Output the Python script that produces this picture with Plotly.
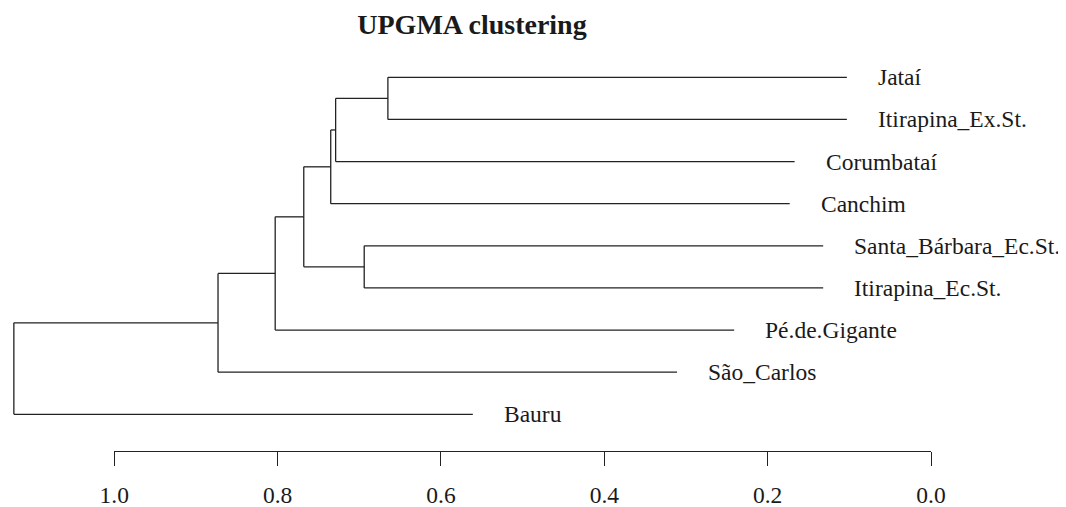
import plotly.graph_objects as go

# ---- data ----
leaves = ["Jataí", "Itirapina_Ex.St.", "Corumbataí", "Canchim",
          "Santa_Bárbara_Ec.St.", "Itirapina_Ec.St.", "Pé.de.Gigante",
          "São_Carlos", "Bauru"]
# merges: name, left child, right child, height on the axis scale
merge_names = ["F", "G", "E", "D", "C", "B", "A", "Root"]
merge_left = ["Jataí", "Santa_Bárbara_Ec.St.", "F", "E", "D", "C", "B", "A"]
merge_right = ["Itirapina_Ex.St.", "Itirapina_Ec.St.", "Corumbataí", "Canchim",
               "G", "Pé.de.Gigante", "São_Carlos", "Bauru"]
merge_height = [0.665, 0.694, 0.729, 0.735, 0.768, 0.803, 0.873, 1.123]
terminal_length = 0.562
axis_ticks = [1.0, 0.8, 0.6, 0.4, 0.2, 0.0]
axis_labels = ["1.0", "0.8", "0.6", "0.4", "0.2", "0.0"]
title = "UPGMA clustering"

# ---- tree geometry from the merges ----
ypos = {name: i + 1 for i, name in enumerate(leaves)}
xpos = {}
for n, l, r, h in zip(merge_names, merge_left, merge_right, merge_height):
    xpos[n] = h
    ypos[n] = (ypos[l] + ypos[r]) / 2.0
for n, l, r, h in zip(merge_names, merge_left, merge_right, merge_height):
    for c in (l, r):
        if c in leaves:
            xpos[c] = h - terminal_length

xs, ys = [], []
for n, l, r, h in zip(merge_names, merge_left, merge_right, merge_height):
    xs += [h, h, None]
    ys += [ypos[l], ypos[r], None]
    for c in (l, r):
        xs += [h, xpos[c], None]
        ys += [ypos[c], ypos[c], None]

FONT = "Liberation Serif, Times New Roman, serif"
LINE = "#222222"
TXT = "#1a1a1a"

# the page body has an 8px margin: size the figure to fill the rest
OFF = 8
W, H = 1066 - OFF, 507 - OFF

fig = go.Figure()
fig.add_trace(go.Scatter(x=xs, y=ys, mode="lines",
                         line=dict(color=LINE, width=1.3),
                         hoverinfo="skip", showlegend=False))

for name in leaves:
    fig.add_annotation(x=xpos[name], y=ypos[name], text=name, showarrow=False,
                       xanchor="left", yanchor="middle", xshift=29,
                       font=dict(family=FONT, size=23.5, color=TXT))

# pixel mapping (figure pixels): value 1.0 at x=114.3-OFF, 0.0 at x=931-OFF
px1, px0 = 114.3 - OFF, 931.0 - OFF
scale = px0 - px1
xr = [px0 / scale, (px0 - W) / scale]
top_y, step = 77.3 - OFF, 42.125
yr = [1 + (H - top_y) / step, 1 - top_y / step]

fig.add_trace(go.Scatter(x=[axis_ticks[0], axis_ticks[-1]], y=[None, None],
                         xaxis="x2", yaxis="y", mode="lines",
                         showlegend=False, hoverinfo="skip"))

fig.update_layout(
    width=W, height=H,
    margin=dict(l=0, r=0, t=0, b=0, pad=0),
    paper_bgcolor="white", plot_bgcolor="rgba(0,0,0,0)",
    title=dict(text="<b>" + title + "</b>", x=(472 - OFF) / W, xanchor="center",
               y=1 - (24 - OFF) / H, yanchor="middle", automargin=False,
               font=dict(family=FONT, size=28, color=TXT)),
    xaxis=dict(range=xr, visible=False, domain=[0, 1], automargin=False),
    yaxis=dict(range=yr, visible=False, automargin=False),
    xaxis2=dict(domain=[px1 / W, px0 / W], range=[1.0, 0.0],
                anchor="free", position=1 - (451 - OFF) / H, automargin=False,
                showline=True, linecolor=LINE, linewidth=1.2,
                ticks="outside", ticklen=14, tickwidth=1.2, tickcolor=LINE,
                tickvals=axis_ticks, ticktext=axis_labels,
                ticklabelstandoff=9,
                showgrid=False, zeroline=False,
                tickfont=dict(family=FONT, size=23.5, color=TXT)),
)

fig.write_html("out.html")
